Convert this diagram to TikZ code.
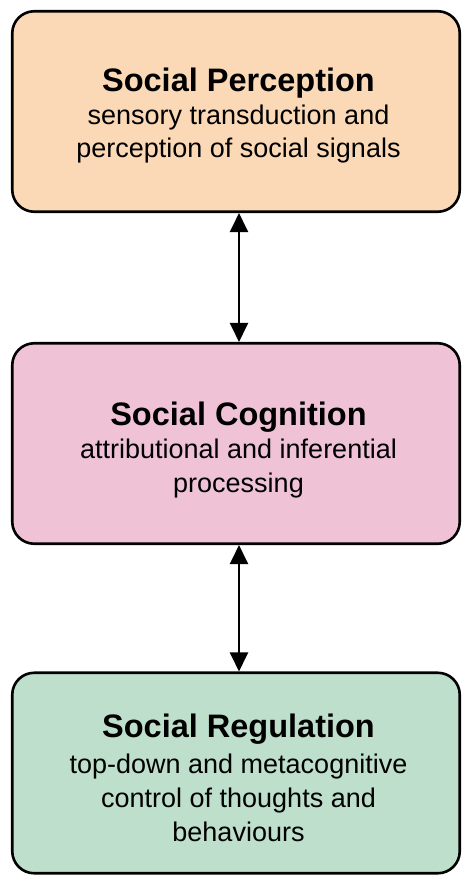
\documentclass[tikz,border=0pt]{standalone}
\usepackage{fontspec}
\setmainfont{Liberation Sans}
\usetikzlibrary{arrows.meta}

\definecolor{percfill}{HTML}{FBD9B6}
\definecolor{cogfill}{HTML}{EFC3D5}
\definecolor{regfill}{HTML}{BDDFCB}

\tikzset{
  x=1pt, y=1pt,
  stagebox/.style={draw=black, line width=2.6pt, rounded corners=22pt,
    minimum width=447.5pt, minimum height=200.5pt, inner sep=0pt},
  headline/.style={anchor=base, inner sep=0pt,
    font=\fontsize{32.5}{34}\selectfont\bfseries},
  subline/.style={anchor=base, inner sep=0pt,
    font=\fontsize{27}{34}\selectfont},
  link/.style={line width=2.2pt,
    {Triangle[length=19pt,width=18pt]}-{Triangle[length=19pt,width=18pt]}}
}

\begin{document}
\begin{tikzpicture}
  \useasboundingbox[fill=white] (0,0) rectangle (464,-875);

  % the three processing stages
  \node[stagebox, fill=percfill] (perc) at (236,-111.5) {};
  \node[stagebox, fill=cogfill]  (cog)  at (236,-443.5) {};
  \node[stagebox, fill=regfill]  (reg)  at (236,-773)   {};

  % stage texts
  \node[headline] (percT)  at (238.5,-92)  {Social Perception};
  \node[subline]  (percS1) at (238.5,-124) {sensory transduction and};
  \node[subline]  (percS2) at (238.5,-157) {perception of social signals};

  \node[headline] (cogT)  at (238.5,-425) {Social Cognition};
  \node[subline]  (cogS1) at (238.5,-458) {attributional and inferential};
  \node[subline]  (cogS2) at (238.5,-492) {processing};

  \node[headline] (regT)  at (238.5,-737) {Social Regulation};
  \node[subline]  (regS1) at (238.5,-773) {top-down and metacognitive};
  \node[subline]  (regS2) at (238.5,-807) {control of thoughts and};
  \node[subline]  (regS3) at (238.5,-841) {behaviours};

  % two-way links between stages
  \draw[link] (perc.south -| 239,0) -- (cog.north -| 239,0);
  \draw[link] (cog.south -| 239,0) -- (reg.north -| 239,0);
\end{tikzpicture}
\end{document}
